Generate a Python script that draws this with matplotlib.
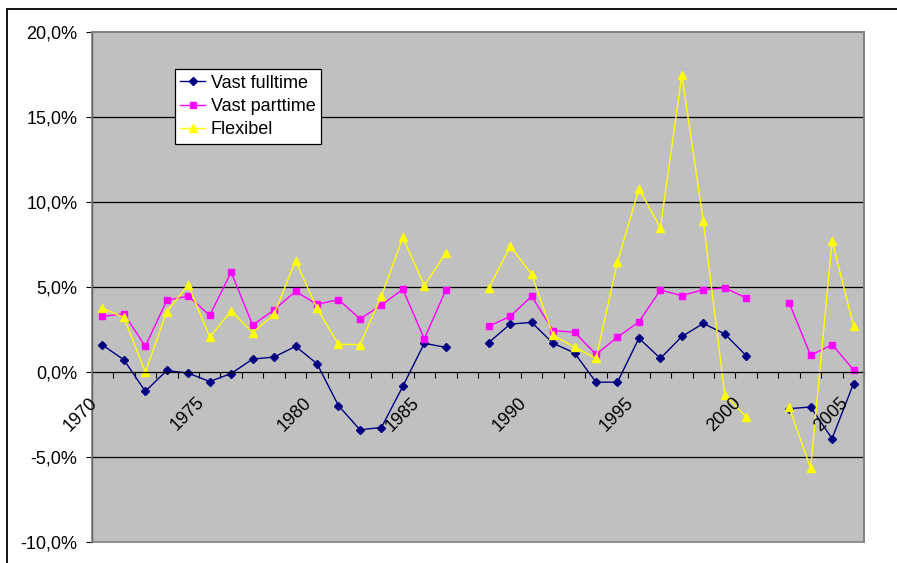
import numpy as np
import matplotlib
matplotlib.use('Agg')
import matplotlib.pyplot as plt
from matplotlib.patches import Rectangle
from matplotlib.ticker import FuncFormatter
from matplotlib.transforms import ScaledTranslation

plt.rcParams['font.family'] = ['Liberation Sans', 'DejaVu Sans']

nan = np.nan
years = list(range(1970, 2006))
# jaarlijkse groei in procenten, gaten in 1987 en 2001
vast_fulltime = [1.6, 0.73, -1.13, 0.1, -0.06, -0.55, -0.08, 0.77, 0.89, 1.52,
                 0.5, -1.97, -3.39, -3.26, -0.83, 1.7, 1.46, nan,
                 1.74, 2.83, 2.93, 1.7, 1.13, -0.59, -0.59, 2.0, 0.81, 2.1,
                 2.87, 2.25, 0.97, nan, -2.15, -2.05, -3.91, -0.67]
vast_parttime = [3.28, 3.44, 1.52, 4.23, 4.48, 3.34, 5.89, 2.77, 3.67, 4.76,
                 3.99, 4.27, 3.14, 3.95, 4.88, 1.96, 4.84, nan,
                 2.71, 3.28, 4.47, 2.45, 2.35, 1.05, 2.06, 2.96, 4.84, 4.5,
                 4.86, 4.96, 4.37, nan, 4.09, 0.99, 1.62, 0.14]
flexibel = [3.77, 3.22, 0.0, 3.56, 5.14, 2.06, 3.6, 2.33, 3.4, 6.56,
            3.76, 1.64, 1.62, 4.47, 7.94, 5.1, 7.01, nan,
            4.94, 7.41, 5.77, 2.16, 1.48, 0.81, 6.48, 10.8, 8.5, 17.48,
            8.89, -1.32, -2.64, nan, -2.07, -5.66, 7.74, 2.73]
yticks = [-10, -5, 0, 5, 10, 15, 20]

fig = plt.figure(figsize=(8.97, 5.63), dpi=100)
ax = fig.add_axes([0.1022, 0.0373, 0.8613, 0.905])
ax.set_facecolor('#C0C0C0')

x = np.arange(len(years))
ax.plot(x, vast_fulltime, color='#000080', lw=1.0, marker='D', ms=3.8, label='Vast fulltime')
ax.plot(x, vast_parttime, color='#FF00FF', lw=1.0, marker='s', ms=5, label='Vast parttime')
ax.plot(x, flexibel, color='#FFFF00', lw=1.0, marker='^', ms=5.5, label='Flexibel')

ax.set_xlim(-0.5, len(years) - 0.5)
ax.set_ylim(-10, 20)

# rasterlijnen
for g in [-5, 5, 10, 15]:
    ax.axhline(g, color='black', lw=0.9, zorder=0.5)

ax.set_yticks(yticks)
ax.yaxis.set_major_formatter(FuncFormatter(lambda v, p: ('%.1f%%' % v).replace('.', ',')))
ax.tick_params(axis='y', length=4.3, width=0.8, pad=6, labelsize=13, colors='black')

ax.spines['bottom'].set_position(('data', 0))
ax.spines['bottom'].set_linewidth(0.9)
ax.spines['left'].set_linewidth(0.9)
for s in ['top', 'right']:
    ax.spines[s].set_color('#808080')
    ax.spines[s].set_linewidth(1.2)
ax.add_patch(Rectangle((0, 0), 1, 1, transform=ax.transAxes, fill=False,
                       ec='#808080', lw=1.2, zorder=3, clip_on=False))

ax.set_xticks(np.arange(-0.5, len(years), 1.0))
ax.set_xticklabels([])
ax.tick_params(axis='x', length=4.3, width=0.8, direction='out')

off = ScaledTranslation(-0.045, -0.31, fig.dpi_scale_trans)
for i, yr in enumerate(years):
    if yr % 5 == 0:
        ax.text(i, 0, str(yr), transform=ax.transData + off, rotation=45,
                rotation_mode='anchor', ha='right', va='baseline', fontsize=13)

leg = ax.legend(loc='upper left', bbox_to_anchor=(0.1074, 0.928), fontsize=13,
                fancybox=False, framealpha=1, edgecolor='black', borderpad=0.3,
                labelspacing=0.35, handlelength=1.4, handletextpad=0.3,
                borderaxespad=0)
leg.get_frame().set_linewidth(0.9)

# rand om de hele grafiek
top = (563 - 9) / 563
fig.add_artist(Rectangle((7 / 897, -0.2), 1.2, top + 0.2,
                         transform=fig.transFigure, fill=False, ec='black', lw=1.3))

fig.savefig('out.png', dpi=100)
